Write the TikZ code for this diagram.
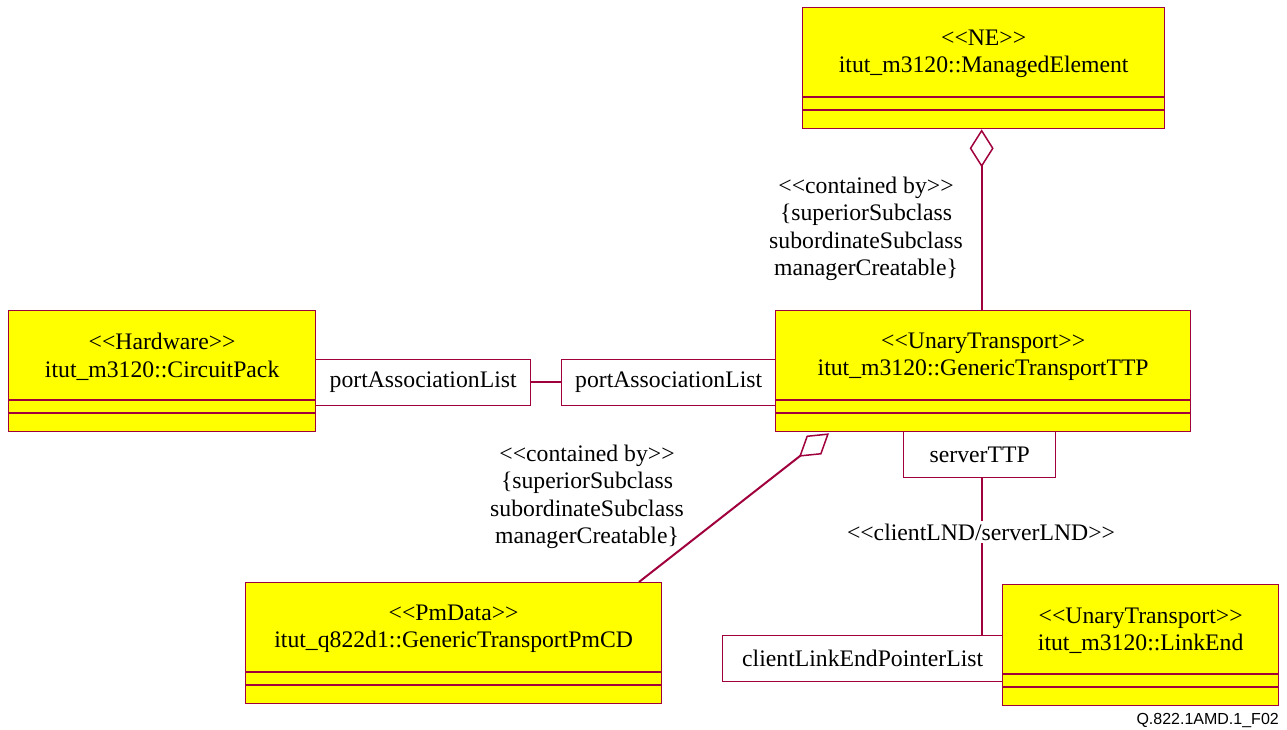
\documentclass[tikz,border=0pt]{standalone}
\usepackage{fontspec}
\setmainfont{Liberation Serif}
\newfontfamily\footfont{Liberation Sans}
\usetikzlibrary{calc,arrows.meta}
\definecolor{mar}{RGB}{160,0,60}
\definecolor{yel}{RGB}{255,255,0}
\newcommand\lla{<\kern0pt<}
\newcommand\rra{>\kern0pt>}
\begin{document}
\begin{tikzpicture}[x=1pt,y=-1pt,
  cls/.style={draw=mar, fill=yel, line width=1.3pt, minimum width=#1, minimum height=121pt, inner sep=0pt, anchor=north west},
  ctext/.style={align=center, font=\fontsize{23.7}{27.5}\selectfont, inner sep=0pt},
  qual/.style={draw=mar, fill=white, line width=1.3pt, minimum width=#1, minimum height=45.5pt, inner sep=0pt, anchor=north west, font=\fontsize{23.7}{27.5}\selectfont},
  div/.style={draw=mar, line width=2pt},
  conn/.style={draw=mar, line width=2pt},
  agg/.style={conn, {Diamond[open, length=38pt, width=24pt, line width=1.5pt]}-}]
\useasboundingbox (0,0) rectangle (1287,729);

% qualifier boxes
\node[qual=215] (pa1) at (315,359) {portAssociationList};
\node[qual=214] (pa2) at (561,359) {portAssociationList};
\node[qual=152] (sv) at (903,431) {serverTTP};
\node[qual=280] (cl) at (722,635) {clientLinkEndPointerList};

% classes
\node[cls=362] (me) at (802,7) {};
\node[cls=415] (gttp) at (775,310) {};
\node[cls=307] (cp) at (8,310) {};
\node[cls=416] (pm) at (245,582) {};
\node[cls=276] (le) at (1002,584) {};

\foreach \n in {me,gttp,cp,pm,le}{
  \draw[div] ($(\n.north west)+(0,90)$) -- ($(\n.north east)+(0,90)$);
  \draw[div] ($(\n.north west)+(0,103)$) -- ($(\n.north east)+(0,103)$);
}

\node[ctext] (met) at ($(me.north)+(0,47)$) {\lla NE\rra\\itut\_m3120::ManagedElement};
\node[ctext] (gttpt) at ($(gttp.north)+(0,47)$) {\lla UnaryTransport\rra\\itut\_m3120::GenericTransportTTP};
\node[ctext] (cpt) at ($(cp.north)+(0,47)$) {\lla Hardware\rra\\itut\_m3120::CircuitPack};
\node[ctext] (pmt) at ($(pm.north)+(0,47)$) {\lla PmData\rra\\itut\_q822d1::GenericTransportPmCD};
\node[ctext] (let) at ($(le.north)+(0,47)$) {\lla UnaryTransport\rra\\itut\_m3120::LinkEnd};

% connectors
\draw[conn] (pa1.east) -- (pa2.west);
\coordinate (mt) at ($(me.south)+(-2,0)$);
\draw[agg] (mt) -- (mt |- gttp.north);
\coordinate (ag) at ($(gttp.south west)+(54,1)$);
\coordinate (pt) at ($(pm.north west)+(394,0)$);
\draw[agg] (ag) -- (pt);
\coordinate (lt) at ($(sv.south)+(2,0)$);
\draw[conn] (lt) -- (lt |- cl.north);

% labels
\node[ctext, fill=white, inner sep=3pt] (lnd) at (981,532) {\lla clientLND/serverLND\rra};
\node[ctext] (cb1) at (866,229) {\lla contained by\rra\\\{superiorSubclass\\subordinateSubclass\\managerCreatable\}};
\node[ctext] (cb2) at (587,497) {\lla contained by\rra\\\{superiorSubclass\\subordinateSubclass\\managerCreatable\}};

\node[font=\footfont\fontsize{16}{19}\selectfont, anchor=east, inner sep=0pt] (ft) at (1279,720) {Q.822.1AMD.1\_F02};
\end{tikzpicture}
\end{document}
